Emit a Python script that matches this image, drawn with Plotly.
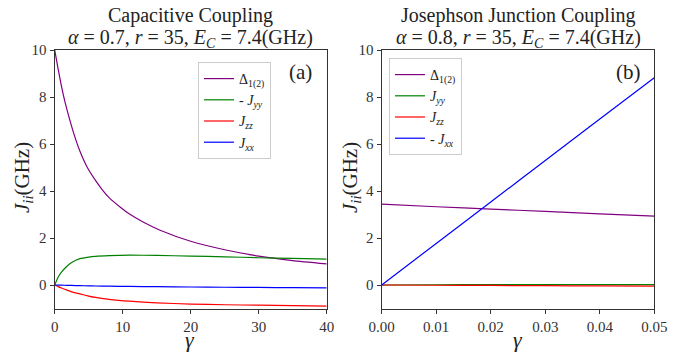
import plotly.graph_objects as go

# ---- data ----
gamma_a_delta = [0, 0.5, 1.0, 1.5, 2.0, 2.8, 3.7, 4.8, 6.0, 7.0, 8.0, 9.7, 11.0, 13.0, 15.5, 20.0, 25.0, 30.0, 35.0, 40.0]
delta_a = [10.0, 9.2, 8.45, 7.8, 7.25, 6.45, 5.7, 5.0, 4.45, 4.05, 3.72, 3.3, 3.02, 2.68, 2.33, 1.86, 1.5, 1.23, 1.04, 0.9]

gamma_a = [0, 0.5, 1.0, 1.8, 2.5, 3.7, 5.0, 6.0, 8.0, 11.0, 15.0, 20.0, 25.0, 30.0, 35.0, 40.0]
neg_jyy_a = [0.0, 0.33, 0.55, 0.8, 0.96, 1.12, 1.19, 1.22, 1.25, 1.27, 1.26, 1.23, 1.2, 1.16, 1.13, 1.1]
jzz_a = [0.0, -0.07, -0.13, -0.22, -0.29, -0.38, -0.47, -0.53, -0.61, -0.69, -0.76, -0.81, -0.84, -0.86, -0.88, -0.9]
jxx_a = [0.0, -0.004, -0.008, -0.015, -0.02, -0.028, -0.036, -0.042, -0.05, -0.06, -0.072, -0.085, -0.095, -0.105, -0.112, -0.12]

gamma_b = [0.0, 0.01, 0.02, 0.03, 0.04, 0.05]
delta_b = [3.44, 3.33, 3.23, 3.13, 3.03, 2.93]
jyy_b = [0.0, 0.01, 0.015, 0.02, 0.02, 0.02]
jzz_b = [0.0, -0.01, -0.02, -0.03, -0.04, -0.05]
neg_jxx_b = [0.0, 1.77, 3.53, 5.3, 7.06, 8.82]

x_ticks_a = [0, 10, 20, 30, 40]
x_ticks_b = [0.0, 0.01, 0.02, 0.03, 0.04, 0.05]
y_ticks = [0, 2, 4, 6, 8, 10]

PURPLE, GREEN, RED, BLUE = "#800080", "#008000", "#ff0000", "#0000ff"
SERIF = "Liberation Serif, DejaVu Serif, serif"
LW = 1.2

fig = go.Figure()

def add(x, y, name, color, xa, ya, legend):
    fig.add_trace(go.Scatter(x=x, y=y, mode="lines", name=name,
                             line=dict(color=color, width=LW, shape="spline", smoothing=0.5),
                             xaxis=xa, yaxis=ya, legend=legend, hoverinfo="skip"))

add(gamma_a_delta, delta_a, "Δ<sub>1(2)</sub>", PURPLE, "x", "y", "legend")
add(gamma_a, neg_jyy_a, "- <i>J<sub>yy</sub></i>", GREEN, "x", "y", "legend")
add(gamma_a, jzz_a, "<i>J<sub>zz</sub></i>", RED, "x", "y", "legend")
add(gamma_a, jxx_a, "<i>J<sub>xx</sub></i>", BLUE, "x", "y", "legend")

add(gamma_b, delta_b, "Δ<sub>1(2)</sub>", PURPLE, "x2", "y2", "legend2")
add(gamma_b, jyy_b, "<i>J<sub>yy</sub></i>", GREEN, "x2", "y2", "legend2")
add(gamma_b, jzz_b, "<i>J<sub>zz</sub></i>", RED, "x2", "y2", "legend2")
add(gamma_b, neg_jxx_b, "- <i>J<sub>xx</sub></i>", BLUE, "x2", "y2", "legend2")

# the page body has an 8px margin: figure pixel = screen pixel - 8
OFF = 8
W, H = 689 - OFF, 354 - OFF
def px(x): return (x - OFF) / W
def py(y): return 1 - (y - OFF) / H

axis_common = dict(showline=True, linecolor="#333", linewidth=1.2, mirror=True,
                   ticks="outside", ticklen=4, tickwidth=1, tickcolor="#333",
                   showgrid=False, zeroline=False, automargin=False,
                   tickfont=dict(family=SERIF, size=15, color="#333"))

yl_top, yl_bot = 50, 308.5
leg_common = dict(xanchor="left", yanchor="top",
                  bgcolor="rgba(255,255,255,0.8)", bordercolor="#cccccc", borderwidth=1,
                  font=dict(family=SERIF, size=14, color="#222"), itemwidth=30,
                  tracegroupgap=0)
fig.update_layout(
    width=W, height=H,
    margin=dict(l=0, r=0, t=0, b=0, autoexpand=False),
    paper_bgcolor="white", plot_bgcolor="white",
    xaxis=dict(domain=[px(54.7), px(326.7)], range=[0, 40], tickvals=x_ticks_a,
               anchor="y", **axis_common),
    yaxis=dict(domain=[py(yl_bot), py(yl_top)], range=[-1, 10], tickvals=y_ticks,
               anchor="x", **axis_common),
    xaxis2=dict(domain=[px(381.7), px(654.3)], range=[0, 0.05], tickvals=x_ticks_b,
                tickformat=".2f", anchor="y2", **axis_common),
    yaxis2=dict(domain=[py(yl_bot), py(yl_top)], range=[-1, 10], tickvals=y_ticks,
                anchor="x2", **axis_common),
    legend=dict(x=px(198), y=py(62), **leg_common),
    legend2=dict(x=px(389), y=py(58), **leg_common),
    showlegend=True,
)

ann_font = dict(family=SERIF, size=20, color="#222")
annotations = [
    dict(text="Capacitive Coupling", x=px(190.5), y=py(16)),
    dict(text="<i>α</i> = 0.7, <i>r</i> = 35, <i>E<sub>C</sub></i> = 7.4(GHz)", x=px(190.5), y=py(38)),
    dict(text="Josephson Junction Coupling", x=px(518), y=py(16)),
    dict(text="<i>α</i> = 0.8, <i>r</i> = 35, <i>E<sub>C</sub></i> = 7.4(GHz)", x=px(518), y=py(38)),
    dict(text="(a)", x=px(300), y=py(72), font=dict(family=SERIF, size=21, color="#222")),
    dict(text="(b)", x=px(628), y=py(72), font=dict(family=SERIF, size=21, color="#222")),
    dict(text="<i>γ</i>", x=px(190.5), y=py(339), font=dict(family=SERIF, size=22, color="#222")),
    dict(text="<i>γ</i>", x=px(518), y=py(339), font=dict(family=SERIF, size=22, color="#222")),
    dict(text="<i>J<sub>ii</sub></i>(GHz)", x=px(23), y=py(178), textangle=-90,
         font=dict(family=SERIF, size=21, color="#222")),
    dict(text="<i>J<sub>ii</sub></i>(GHz)", x=px(351), y=py(178), textangle=-90,
         font=dict(family=SERIF, size=21, color="#222")),
]
for a in annotations:
    a.setdefault("font", ann_font)
    a.update(xref="paper", yref="paper", showarrow=False, xanchor="center", yanchor="middle")
fig.update_layout(annotations=annotations)

fig.write_html("out.html")
